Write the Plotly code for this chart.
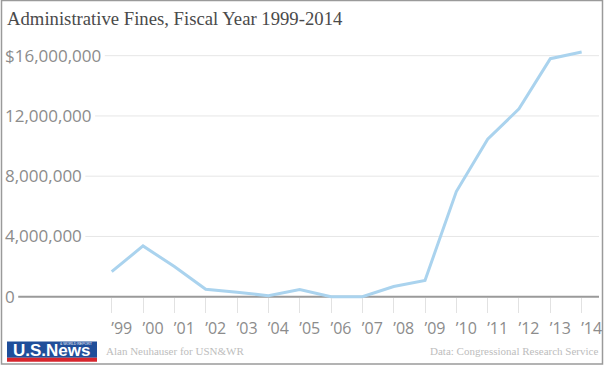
import plotly.graph_objects as go

# ---- data ----
years = list(range(1999, 2015))
year_labels = ["’99", "’00", "’01", "’02", "’03", "’04", "’05", "’06",
               "’07", "’08", "’09", "’10", "’11", "’12", "’13", "’14"]
fines = [1660000, 3370000, 2000000, 490000, 290000, 70000, 470000, 0,
         0, 680000, 1080000, 6980000, 10460000, 12470000, 15800000, 16240000]
y_ticks = [0, 4000000, 8000000, 12000000, 16000000]
y_tick_labels = ["0", "4,000,000", "8,000,000", "12,000,000", "$16,000,000"]

title = "Administrative Fines, Fiscal Year 1999-2014"
credit = "Alan Neuhauser for USN&WR"
source = "Data: Congressional Research Service"

# ---- layout geometry ----
W, H = 605, 366
L, R, T, B = 2, 5, 40, 54
PW = W - L - R
PH = H - T - B
BOT = H - B          # pixel y of plot-area bottom
ZERO_PX = 296.7      # pixel y of value 0
PX_PER_UNIT = 241.0 / 16000000
X_FIRST_PX = 111.7
X_STEP = 31.33
YFONT = 17


def px2x(px):
    return (px - L) / PW


def py2y(py):
    return (BOT - py) / PH


def label_width(s, size=YFONT):
    w = 0
    for ch in s:
        w += 0.258 * size if ch == "," else 0.572 * size
    return w


fig = go.Figure()
fig.add_trace(go.Scatter(
    x=years, y=fines, mode="lines",
    line=dict(color="#aad3ee", width=3),
    cliponaxis=False, hoverinfo="x+y", showlegend=False,
))

shapes = []
for v, lab in zip(y_ticks, y_tick_labels):
    start = 5 + label_width(lab) + 3.5
    if v == 0:
        shapes.append(dict(type="line", xref="paper", yref="y", x0=px2x(start), x1=px2x(599),
                           y0=v, y1=v, line=dict(color="#9a9a9a", width=2), layer="below"))
    else:
        shapes.append(dict(type="line", xref="paper", yref="y", x0=px2x(start), x1=px2x(599),
                           y0=v, y1=v, line=dict(color="#e6e6e6", width=1), layer="below"))

# outer frame
shapes.append(dict(type="rect", xref="paper", yref="paper",
                   x0=px2x(1.5), x1=px2x(602.5), y0=py2y(364), y1=py2y(0.5),
                   line=dict(color="#9a9a9a", width=1.5), layer="below"))
# logo blocks
shapes.append(dict(type="rect", xref="paper", yref="paper",
                   x0=px2x(7), x1=px2x(97), y0=py2y(357.7), y1=py2y(341.5),
                   fillcolor="#1f4e9a", line=dict(width=0), layer="above"))
shapes.append(dict(type="rect", xref="paper", yref="paper",
                   x0=px2x(7), x1=px2x(97), y0=py2y(361.7), y1=py2y(357.7),
                   fillcolor="#d6252c", line=dict(width=0), layer="above"))

annotations = [
    dict(text="U.S.News", xref="paper", yref="paper", x=px2x(51.5), y=py2y(350.5),
         showarrow=False, xanchor="center", yanchor="middle", borderpad=0,
         font=dict(family="Liberation Sans", size=17, color="white", weight="bold")),
    dict(text="&amp; WORLD REPORT", xref="paper", yref="paper", x=px2x(76), y=py2y(343.8),
         showarrow=False, xanchor="center", yanchor="middle", borderpad=0,
         font=dict(family="Liberation Sans", size=3.5, color="white")),
    dict(text=credit.replace("&", "&amp;"), xref="paper", yref="paper", x=px2x(104), y=py2y(350.5),
         showarrow=False, xanchor="left", yanchor="middle",
         font=dict(family="Liberation Serif", size=11, color="#bdbdbd")),
    dict(text=source, xref="paper", yref="paper", x=px2x(600), y=py2y(350.5),
         showarrow=False, xanchor="right", yanchor="middle",
         font=dict(family="Liberation Serif", size=11, color="#bdbdbd")),
]

x0 = 1999 - (X_FIRST_PX - L) / X_STEP
x1 = 1999 + (W - R - X_FIRST_PX) / X_STEP
ymin = -(BOT - ZERO_PX) / PX_PER_UNIT
ymax = (ZERO_PX - T) / PX_PER_UNIT

fig.update_layout(
    width=W, height=H,
    margin=dict(l=L, r=R, t=T, b=B),
    paper_bgcolor="white", plot_bgcolor="white",
    title=dict(text=title, x=7 / W, xref="container", xanchor="left",
               y=1 - 18 / H, yref="container", yanchor="middle",
               font=dict(family="Liberation Serif", size=18.7, color="#4a4a4a")),
    xaxis=dict(range=[x0, x1], tickvals=years, ticktext=year_labels,
               anchor="free", position=py2y(ZERO_PX),
               showgrid=False, zeroline=False, showline=False,
               ticks="outside", ticklen=15, tickcolor="#e2e2e2", tickwidth=1,
               ticklabelshift=10, ticklabelstandoff=2,
               tickfont=dict(family="Open Sans", size=16, color="#8c8c8c")),
    yaxis=dict(range=[ymin, ymax], tickvals=y_ticks, ticktext=y_tick_labels,
               showgrid=False, zeroline=False, showline=False,
               ticklabelposition="inside", ticks="",
               tickfont=dict(family="Open Sans", size=YFONT, color="#8c8c8c")),
    shapes=shapes, annotations=annotations,
    hovermode="closest",
)

fig.write_html("out.html", config={"displayModeBar": False},
               post_script="document.body.style.margin='0';")
